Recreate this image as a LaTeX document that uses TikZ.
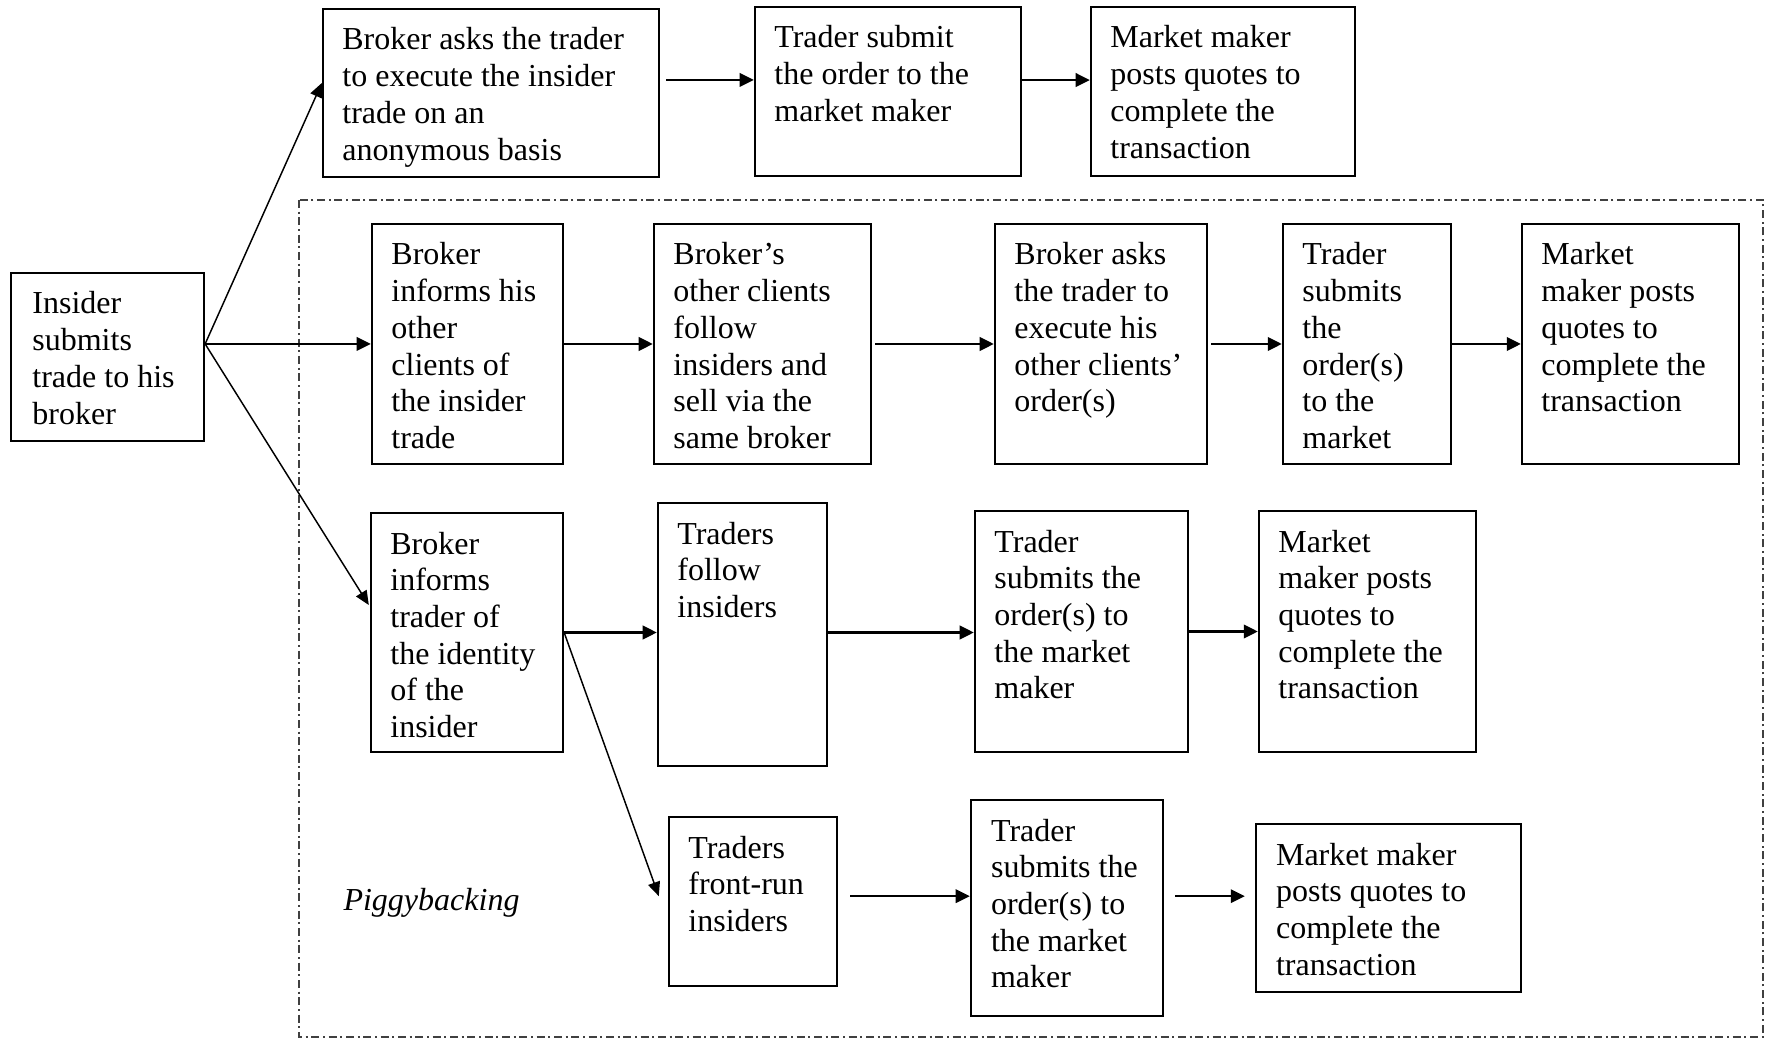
\documentclass[tikz,border=0pt]{standalone}
\usepackage{fontspec}
\setmainfont{Liberation Serif}
\usetikzlibrary{fit,calc,arrows.meta}
\newcommand{\fr}{\rule{0pt}{15.6pt}}
\begin{document}
\begin{tikzpicture}[x=0.375pt,y=-0.375pt,
  box/.style={draw, line width=0.85pt, inner sep=0pt},
  txt/.style={anchor=north west, inner sep=0pt, align=left, font=\fontsize{12pt}{13.76pt}\selectfont},
  harr/.style={line width=0.95pt, -{Triangle[length=5.3pt,width=5pt]}},
  darr/.style={line width=0.55pt, -{Triangle[length=5.3pt,width=4.6pt]}},
  frame/.style={line width=0.4pt, black!75, dash pattern=on 3pt off 1.4pt on 0.7pt off 1.4pt}]
\useasboundingbox (0,0) rectangle (1773,1040);
\draw[frame] (299,200) rectangle (1763,1037);
% boxes
\node[box, fit={(11,273) (204,441)}] (ins) {};
\node[box, fit={(323,9) (659,177)}] (t1) {};
\node[box, fit={(755,7) (1021,176)}] (t2) {};
\node[box, fit={(1091,7) (1355,176)}] (t3) {};
\node[box, fit={(372,224) (563,464)}] (A) {};
\node[box, fit={(654,224) (871,464)}] (B) {};
\node[box, fit={(995,224) (1207,464)}] (C) {};
\node[box, fit={(1283,224) (1451,464)}] (D) {};
\node[box, fit={(1522,224) (1739,464)}] (E) {};
\node[box, fit={(371,513) (563,752)}] (F) {};
\node[box, fit={(658,503) (827,766)}] (G) {};
\node[box, fit={(975,511) (1188,752)}] (H) {};
\node[box, fit={(1259,511) (1476,752)}] (I) {};
\node[box, fit={(669,817) (837,986)}] (J) {};
\node[box, fit={(971,800) (1163,1016)}] (K) {};
\node[box, fit={(1256,824) (1521,992)}] (L) {};
% texts
\node[txt] (ins-t) at ([xshift=8.25pt]ins.north west) {\fr Insider\\submits\\trade to his\\broker};
\node[txt] (t1-t) at ([xshift=7.5pt]t1.north west) {\fr Broker asks the trader\\to execute the insider\\trade on an\\anonymous basis};
\node[txt] (t2-t) at ([xshift=7.5pt]t2.north west) {\fr Trader submit\\the order to the\\market maker};
\node[txt] (t3-t) at ([xshift=7.5pt]t3.north west) {\fr Market maker\\posts quotes to\\complete the\\transaction};
\node[txt] (A-t) at ([xshift=7.5pt]A.north west) {\fr Broker\\informs his\\other\\clients of\\the insider\\trade};
\node[txt] (B-t) at ([xshift=7.5pt]B.north west) {\fr Broker’s\\other clients\\follow\\insiders and\\sell via the\\same broker};
\node[txt] (C-t) at ([xshift=7.5pt]C.north west) {\fr Broker asks\\the trader to\\execute his\\other clients’\\order(s)};
\node[txt] (D-t) at ([xshift=7.5pt]D.north west) {\fr Trader\\submits\\the\\order(s)\\to the\\market};
\node[txt] (E-t) at ([xshift=7.5pt]E.north west) {\fr Market\\maker posts\\quotes to\\complete the\\transaction};
\node[txt] (F-t) at ([xshift=7.5pt]F.north west) {\fr Broker\\informs\\trader of\\the identity\\of the\\insider};
\node[txt] (G-t) at ([xshift=7.5pt]G.north west) {\fr Traders\\follow\\insiders};
\node[txt] (H-t) at ([xshift=7.5pt]H.north west) {\fr Trader\\submits the\\order(s) to\\the market\\maker};
\node[txt] (I-t) at ([xshift=7.5pt]I.north west) {\fr Market\\maker posts\\quotes to\\complete the\\transaction};
\node[txt] (J-t) at ([xshift=7.5pt]J.north west) {\fr Traders\\front-run\\insiders};
\node[txt] (K-t) at ([xshift=7.75pt]K.north west) {\fr Trader\\submits the\\order(s) to\\the market\\maker};
\node[txt] (L-t) at ([xshift=7.75pt]L.north west) {\fr Market maker\\posts quotes to\\complete the\\transaction};
\node[anchor=base west, inner sep=0pt, font=\fontsize{12pt}{13.76pt}\selectfont\itshape] (pig) at (343,910) {Piggybacking};
% connectors
\coordinate (a1) at ([xshift=2.25pt,yshift=4.9pt]t1.east);
\draw[harr] (a1) -- (a1 -| t2.west);
\coordinate (a2) at ([yshift=4.3pt]t2.east);
\draw[harr] (a2) -- (a2 -| t3.west);
\coordinate (s0) at ([yshift=4.9pt]ins.east);
\draw[darr] (s0) -- ([yshift=3.75pt]t1.west);
\draw[harr] (s0) -- (s0 -| A.west);
\draw[darr] (s0) -- ([xshift=-0.4pt,yshift=10.3pt]F.west);
\draw[harr] (A.east) -- (B.west);
\draw[harr] ([xshift=1.1pt]B.east) -- (C.west);
\draw[harr] ([xshift=1.1pt]C.east) -- (D.west);
\draw[harr] (D.east) -- (E.west);
\draw[harr] (F.east) -- (F.east -| G.west);
\draw[harr] (G.east |- F.east) -- (H.west |- F.east);
\draw[harr] (H.east) -- (I.west);
\draw[darr] (F.east) -- ([xshift=-3.4pt,yshift=2pt]J.west);
\coordinate (jk) at ([xshift=4.5pt,yshift=2pt]J.east);
\draw[harr] (jk) -- (jk -| K.west);
\coordinate (kl) at ($(K.east |- jk)+(4.1pt,0)$);
\draw[harr] (kl) -- ($(kl -| L.west)+(-3.75pt,0)$);
\end{tikzpicture}
\end{document}
